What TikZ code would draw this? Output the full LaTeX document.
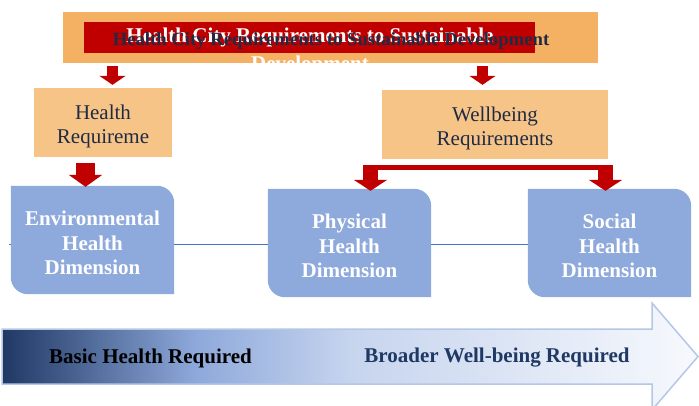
\documentclass[tikz,border=0pt]{standalone}
\usepackage{fontspec}
\setmainfont{Liberation Serif}
\usetikzlibrary{arrows.meta,backgrounds,calc}
\definecolor{titleorange}{HTML}{F4B163}
\definecolor{reqorange}{HTML}{F7C487}
\definecolor{darkred}{HTML}{C00000}
\definecolor{dimblue}{HTML}{8EA9DB}
\definecolor{linkblue}{HTML}{4472C4}
\definecolor{inknavy}{HTML}{1F2B45}
\definecolor{deepnavy}{HTML}{1F3864}
\definecolor{softblue}{HTML}{C6D4EE}
\definecolor{paleblue}{HTML}{F7F9FD}
\definecolor{edgeblue}{HTML}{B4C7E7}
\pgfdeclarehorizontalshading{progressfade}{100bp}{color(0bp)=(deepnavy); color(25bp)=(deepnavy); color(39bp)=(dimblue); color(50bp)=(softblue); color(75bp)=(paleblue); color(100bp)=(paleblue)}
\tikzset{
  reqbox/.style={minimum height=77pt, inner sep=0pt, align=center, text=inknavy, font=\fontsize{21}{24}\selectfont},
  dimbox/.style={minimum width=163pt, minimum height=114pt, inner sep=0pt, align=center, text=white, font=\bfseries\fontsize{21}{24.5}\selectfont},
  downarrow/.style={draw=darkred, line width=11pt, -{Triangle[width=26pt,length=9pt]}},
  bigarrow/.style={draw=darkred, line width=19pt, -{Triangle[width=33pt,length=12pt]}},
  forkarrow/.style={draw=darkred, line width=15pt, -{Triangle[width=33pt,length=11pt]}},
  linkline/.style={draw=linkblue, line width=1.5pt}
}
% box filled up to 8pt above the node's south side
\newcommand\reqshape[1]{%
  \fill[reqorange] (#1.north west) rectangle ([yshift=8pt]#1.south east);}
% rounded top right and bottom left only
\newcommand\dimshape[1]{%
  \fill[dimblue] (#1.north west) -- ([xshift=-17pt]#1.north east) arc[start angle=90,end angle=0,radius=17pt]
    -- ([yshift=6pt]#1.south east) -- ([xshift=17pt,yshift=6pt]#1.south west) arc[start angle=270,end angle=180,radius=17pt] -- cycle;}
\begin{document}
\begin{tikzpicture}[x=1pt,y=1pt]
	\useasboundingbox (0,0) rectangle (699,-406);
	%title
		\node[fill=titleorange, minimum width=535pt, minimum height=51pt, inner sep=0pt] (topbox) at (330.5,-37.5) {};
		\node[fill=darkred, minimum width=451pt, minimum height=31pt, inner sep=0pt] (titlebar) at (309.5,-37.5) {};
		\node[text=white, align=center, font=\bfseries\fontsize{21}{28}\selectfont] (titlewhite) at (310,-51) {Health City Requirements to Sustainable\\Development};
		\node[text=inknavy, font=\bfseries\fontsize{18.7}{22}\selectfont] (titledark) at (331,-41) {Health City Requirements to Sustainable Development};
	%requirements
		\node[reqbox, minimum width=138pt] (healthreq) at (103,-126.5) {Health\\Requireme};
		\node[reqbox, minimum width=226pt] (wellbeing) at (495,-128.5) {Wellbeing\\Requirements};
	%dimensions
		\node[dimbox] (env) at (92.5,-243) {Environmental\\Health\\Dimension};
		\node[dimbox] (physical) at (349.5,-246) {Physical\\Health\\Dimension};
		\node[dimbox] (social) at (609.5,-246) {Social\\Health\\Dimension};
		\coordinate (linestart) at (9,-244.5);
		\begin{pgfonlayer}{background}
			\reqshape{healthreq}
			\reqshape{wellbeing}
			\draw[linkline] (linestart) -- (linestart -| social.west);
			\dimshape{env}
			\dimshape{physical}
			\dimshape{social}
		\end{pgfonlayer}
	%red arrows
		\draw[downarrow, shorten <=3pt, shorten >=3pt] ([xshift=9.5pt]healthreq.north |- topbox.south) -- ([xshift=9.5pt]healthreq.north);
		\draw[downarrow, shorten <=3pt, shorten >=5pt] ([xshift=-12.5pt]wellbeing.north |- topbox.south) -- ([xshift=-12.5pt]wellbeing.north);
		\draw[bigarrow, shorten <=-2pt, shorten >=-1pt] ([xshift=-17.5pt]healthreq.south) -- ([xshift=-17.5pt]healthreq.south |- env.north);
		\coordinate (forkL) at ([xshift=-124.5pt,yshift=-0.5pt]wellbeing.south);
		\coordinate (forkR) at ([xshift=110.5pt,yshift=-0.5pt]wellbeing.south);
		\draw[darkred, line width=5pt] ([xshift=-7.5pt]forkL) -- ([xshift=7.5pt]forkR);
		\draw[forkarrow, shorten >=-2pt] ([yshift=2.5pt]forkL) -- (forkL |- physical.north);
		\draw[forkarrow, shorten >=-2pt] ([yshift=2.5pt]forkR) -- (forkR |- social.north);
	%progress arrow
		\shadedraw[shading=progressfade, draw=edgeblue, line width=1.5pt] (2,-329) -- (652,-329) -- (652,-303)
			-- (698,-356.5) -- (652,-410) -- (652,-384) -- (2,-384) -- cycle;
		\node[font=\bfseries\fontsize{21}{24}\selectfont] (basiclabel) at (150.5,-358) {Basic Health Required};
		\node[text=deepnavy, font=\bfseries\fontsize{21}{24}\selectfont] (broaderlabel) at (497,-358) {Broader Well-being Required};
\end{tikzpicture}
\end{document}
